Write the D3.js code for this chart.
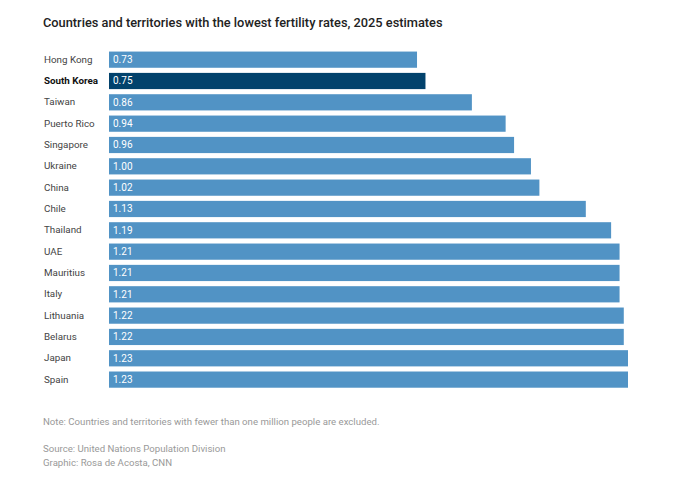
<!DOCTYPE html>
<html>
<head>
<meta charset="utf-8">
<script src="https://cdn.jsdelivr.net/npm/d3@7"></script>
<style>
  body { margin: 0; background: #fff; }
  svg text { font-family: Roboto, "Noto Sans", sans-serif; }
</style>
</head>
<body>
<div id="chart"></div>
<script>
'use strict'

// data
const countries = ["Hong Kong", "South Korea", "Taiwan", "Puerto Rico", "Singapore", "Ukraine", "China", "Chile",
    "Thailand", "UAE", "Mauritius", "Italy", "Lithuania", "Belarus", "Japan", "Spain"]
const rates = [0.73, 0.75, 0.86, 0.94, 0.96, 1.00, 1.02, 1.13, 1.19, 1.21, 1.21, 1.21, 1.22, 1.22, 1.23, 1.23]
const highlight = "South Korea"

const title = "Countries and territories with the lowest fertility rates, 2025 estimates"
const note = "Note: Countries and territories with fewer than one million people are excluded."
const source = "Source: United Nations Population Division"
const credit = "Graphic: Rosa de Acosta, CNN"

const data = countries.map((c, i) => ({country: c, rate: rates[i]}))

////////////////////////////////////
//////////// svg setup /////////////
////////////////////////////////////

const svgWidth = 700
const svgHeight = 477
const margin = {left: 109, right: 72, top: 49, bottom: 89}

const svg = d3.select('#chart').append('svg')
    .attr('width', svgWidth)
    .attr('height', svgHeight)

const g = svg.append('g')
    .attr('transform', `translate(${margin.left},${margin.top})`)

// scales
const xScale = d3.scaleLinear()
    .domain([0, d3.max(rates)])
    .range([0, 519])

const yScale = d3.scaleBand()
    .domain(countries)
    .range([0, 16 * 21.33])
    .paddingInner(0.24)
    .paddingOuter(0.12)

// bars
g.selectAll('.bar')
    .data(data)
    .enter()
    .append('rect')
    .attr('class', 'bar')
    .attr('x', 0)
    .attr('y', d => yScale(d.country))
    .attr('width', d => xScale(d.rate))
    .attr('height', yScale.bandwidth())
    .attr('fill', d => d.country === highlight ? '#02426c' : '#5193c5')

// value labels
g.selectAll('.val')
    .data(data)
    .enter()
    .append('text')
    .attr('class', 'val')
    .attr('x', 4)
    .attr('y', d => yScale(d.country) + yScale.bandwidth() / 2)
    .attr('dy', '0.35em')
    .attr('fill', '#fff')
    .attr('font-size', 10)
    .text(d => d.rate.toFixed(2))

// y axis labels
const yAxis = g.append('g')
    .call(d3.axisLeft(yScale).tickSize(0).tickPadding(0))

yAxis.select('.domain').remove()
yAxis.selectAll('text')
    .attr('text-anchor', 'start')
    .attr('x', 44 - margin.left)
    .attr('font-size', 9.8)
    .attr('font-family', 'Roboto, sans-serif')
    .attr('fill', d => d === highlight ? '#111' : '#444')
    .attr('font-weight', d => d === highlight ? 'bold' : 'normal')

// title
svg.append('text')
    .attr('x', 43)
    .attr('y', 27)
    .attr('font-size', 12.8)
    .attr('font-weight', 500)
    .attr('fill', '#222')
    .text(title)

// footer
const foot = svg.append('g').attr('fill', '#999').attr('font-size', 9.65)
foot.append('text').attr('x', 43).attr('y', 425).text(note)
foot.append('text').attr('x', 43).attr('y', 452).text(source)
foot.append('text').attr('x', 43).attr('y', 466).text(credit)
</script>
</body>
</html>
